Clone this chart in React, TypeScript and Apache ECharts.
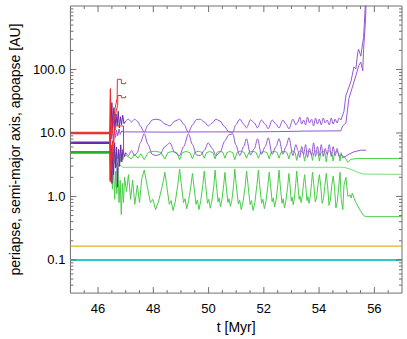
import React, { useEffect, useRef } from 'react';
import * as echarts from 'echarts';

// ---------- axis ranges & ticks ----------
const X_MIN = 45;
const X_MAX = 57;
const Y_MIN = 0.03;
const Y_MAX = 1000;
const xMajorTicks = [46, 48, 50, 52, 54, 56];
const xMinorTicks = [45.5, 46.5, 47, 47.5, 48.5, 49, 49.5, 50.5, 51, 51.5, 52.5, 53, 53.5, 54.5, 55, 55.5, 56.5];
const yMajorTicks = [0.1, 1, 10, 100];
const yMinorTicks = [0.04, 0.05, 0.06, 0.07, 0.08, 0.09, 0.2, 0.3, 0.4, 0.5, 0.6, 0.7, 0.8, 0.9, 2, 3, 4, 5, 6, 7, 8, 9, 20, 30, 40, 50, 60, 70, 80, 90, 200, 300, 400, 500, 600, 700, 800, 900];

// ---------- inner planets ----------
const cyanA = [[45, 0.1], [57, 0.1]];
const yellowA = [[45, 0.165], [57, 0.165]];

// ---------- red planet ----------
const redPreQ = [[45, 10.25], [46.43, 10.25]];
const redPreA = [[45, 10.0], [46.43, 10.0]];
const redPreq = [[45, 9.75], [46.43, 9.75]];
const redApo = [[46.43, 10.3], [46.445, 50], [46.45, 12], [46.46, 10], [46.5, 14], [46.57, 17], [46.62, 25], [46.69, 35], [46.7, 70], [46.84, 70], [46.845, 59.8], [46.994, 59.8], [46.998, 63]];
const redA = [[46.43, 10.0], [46.44, 1.7], [46.455, 9], [46.5, 9], [46.55, 14], [46.64, 20.5], [46.71, 27.3], [46.715, 38.9], [46.84, 38.9], [46.845, 35.9], [46.994, 35.9], [46.998, 38.3]];
const redPeri = [[46.43, 9.7], [46.44, 1.8], [46.46, 6], [46.49, 2.5], [46.52, 7.5], [46.55, 4], [46.58, 9], [46.6, 12.9], [46.92, 12.9], [46.925, 4.6]];

// ---------- purple planet ----------
const purplePreQ = [[45, 7.15], [46.43, 7.15]];
const purplePreA = [[45, 7.0], [46.43, 7.0]];
const purplePreq = [[45, 6.85], [46.43, 6.85]];
const purpleApoChaos = [[46.43, 7.2], [46.45, 42], [46.47, 14], [46.5, 30], [46.53, 12], [46.57, 25], [46.61, 11], [46.65, 20], [46.69, 13], [46.73, 22], [46.77, 12], [46.81, 18], [46.85, 13.5], [46.89, 19], [46.94, 14], [47.0, 15.4]];
const purpleApo = [
  [47.0, 15.4], [47.1, 16.5], [47.21, 14.9], [47.32, 16.5], [47.42, 15.4], [47.53, 12.9], [47.67, 10.2], [47.81, 13.4], [47.96, 16.0], [48.1, 16.5], [48.24, 16.0], [48.42, 13.8], [48.6, 12.9], [48.78, 15.4], [48.95, 16.5], [49.1, 13.8], [49.27, 10.2], [49.42, 13.4], [49.56, 16.2], [49.7, 16.5], [49.84, 14.9], [49.99, 12.9], [50.13, 14.35], [50.27, 16.5], [50.41, 15.4], [50.59, 12.4], [50.73, 10.4], [50.88, 10.2], [50.98, 13.4], [51.13, 16.5], [51.27, 13.8], [51.37, 12.0], [51.52, 16.2], [51.66, 14.35], [51.77, 12.0], [51.91, 16.0], [52.05, 13.8], [52.16, 11.6], [52.3, 16.0], [52.44, 13.8], [52.55, 12.0], [52.69, 16.0], [52.8, 13.8], [52.91, 11.6], [53.05, 16.5], [53.16, 13.4], [53.23, 14.9], [53.3, 17.8], [53.37, 13.8], [53.44, 16.0], [53.51, 13.4], [53.58, 17.8], [53.65, 14.35], [53.73, 16.5], [53.8, 12.9], [53.87, 17.15], [53.94, 13.8], [54.01, 16.5], [54.08, 13.4], [54.15, 17.15], [54.22, 14.35], [54.29, 16.0], [54.37, 13.4], [54.44, 17.15], [54.51, 13.8], [54.58, 16.5], [54.65, 14.35], [54.72, 17.15], [54.79, 16.0],
];
const purpleApoEject = [[54.79, 16.0], [54.9, 22], [54.97, 39], [55.15, 64], [55.26, 110], [55.33, 102], [55.4, 187], [55.43, 208], [55.51, 162], [55.58, 267], [55.61, 320], [55.68, 1200], [55.7, 2000]];
const purpleA = [
  [46.43, 7.0], [46.45, 20], [46.48, 8], [46.51, 14], [46.55, 7], [46.59, 12], [46.63, 8.5], [46.67, 11], [46.71, 9], [46.76, 11.5], [46.8, 9.5], [46.86, 10.8], [46.92, 10.2],
  [47.0, 10.4], [48.5, 10.3], [50.0, 10.4], [51.5, 10.4], [52.5, 10.5], [53.5, 10.7], [54.79, 10.8],
  [54.85, 12.9], [54.97, 14.35], [55.08, 35], [55.22, 55.6], [55.33, 79.5], [55.43, 113.6], [55.51, 131], [55.58, 95], [55.61, 208], [55.68, 607], [55.71, 1500],
];
const purplePeriChaos = [[46.43, 6.8], [46.45, 2.5], [46.47, 6.5], [46.5, 1.6], [46.53, 5], [46.56, 2.2], [46.6, 7], [46.63, 2.8], [46.67, 6], [46.7, 1.4], [46.74, 5.5], [46.78, 3.0], [46.82, 6.5], [46.86, 3.5], [46.9, 5.5], [46.95, 4.2], [47.0, 4.9]];
const purplePeri = [
  [47.0, 4.9], [47.1, 4.4], [47.21, 5.3], [47.32, 4.4], [47.42, 4.9], [47.53, 7.0], [47.67, 9.7], [47.81, 6.55], [47.96, 4.6], [48.1, 4.4], [48.24, 4.6], [48.42, 6.1], [48.6, 7.0], [48.78, 4.9], [48.95, 4.4], [49.1, 6.1], [49.27, 9.7], [49.42, 6.55], [49.56, 4.5], [49.7, 4.4], [49.84, 5.3], [49.99, 7.0], [50.13, 5.7], [50.27, 4.4], [50.41, 4.9], [50.59, 7.55], [50.73, 9.35], [50.88, 9.7], [50.98, 6.55], [51.13, 4.4], [51.27, 6.1], [51.37, 8.1], [51.52, 4.5], [51.66, 5.7], [51.77, 8.1], [51.91, 4.6], [52.05, 6.1], [52.16, 8.4], [52.3, 4.6], [52.44, 6.1], [52.55, 8.1], [52.69, 4.6], [52.8, 6.1], [52.91, 8.4], [53.05, 4.4], [53.16, 6.55], [53.23, 5.3], [53.3, 4.12], [53.37, 6.1], [53.44, 4.6], [53.51, 6.55], [53.58, 4.12], [53.65, 5.7], [53.73, 4.4], [53.8, 7.0], [53.87, 4.27], [53.94, 6.1], [54.01, 4.4], [54.08, 6.55], [54.15, 4.27], [54.22, 5.7], [54.29, 4.6], [54.37, 6.55], [54.44, 4.27], [54.51, 6.1], [54.58, 4.4], [54.65, 5.7], [54.72, 4.27], [54.79, 4.6],
];
const purplePeriEject = [[54.79, 4.6], [54.9, 4.12], [55.08, 4.63], [55.26, 5.05], [55.51, 5.35], [55.7, 5.35]];

// ---------- green planet ----------
const greenPreQ = [[45, 5.08], [46.43, 5.08]];
const greenPreA = [[45, 4.95], [46.43, 4.95]];
const greenPreq = [[45, 4.82], [46.43, 4.82]];
const greenApo = [
  [46.43, 5.15], [46.46, 4.2], [46.5, 5.6], [46.54, 3.6], [46.58, 5.2], [46.62, 3.3], [46.66, 5.0], [46.7, 3.9], [46.75, 5.4], [46.8, 3.5], [46.85, 4.8], [46.9, 3.8], [46.96, 4.5], [47.03, 4.4], [47.2, 3.9], [47.32, 4.6], [47.45, 4.0], [47.55, 4.7], [47.671, 3.8],
  [47.82, 4.95], [48.045, 5.15], [48.27, 4.95], [48.419, 3.9],
  [48.526, 4.9], [48.686, 5.1], [48.846, 4.9], [48.953, 3.8],
  [49.046, 4.9], [49.185, 5.1], [49.324, 4.9], [49.416, 3.9],
  [49.501, 4.95], [49.63, 5.15], [49.758, 4.95], [49.843, 4.0],
  [49.922, 4.9], [50.039, 5.1], [50.157, 4.9], [50.235, 3.9],
  [50.306, 4.95], [50.413, 5.15], [50.52, 4.95], [50.591, 4.0],
  [50.662, 4.9], [50.769, 5.1], [50.876, 4.9], [50.947, 3.8],
  [51.033, 4.95], [51.161, 5.15], [51.289, 4.95], [51.375, 4.0],
  [51.46, 4.95], [51.588, 5.15], [51.717, 4.95], [51.802, 4.0],
  [51.88, 4.9], [51.998, 5.1], [52.116, 4.9], [52.194, 3.9],
  [52.265, 4.95], [52.372, 5.15], [52.479, 4.95], [52.55, 4.0],
  [52.621, 4.95], [52.728, 5.15], [52.835, 4.95], [52.906, 3.9],
  [52.963, 4.9], [53.048, 5.2], [53.134, 4.9], [53.19, 3.7],
  [53.247, 4.9], [53.333, 5.25], [53.418, 4.9], [53.476, 3.6],
  [53.533, 4.9], [53.618, 5.2], [53.704, 4.9], [53.761, 3.7],
  [53.811, 4.9], [53.886, 5.25], [53.96, 4.9], [54.01, 3.6],
  [54.06, 4.85], [54.135, 5.2], [54.21, 4.85], [54.259, 3.5],
  [54.309, 4.85], [54.384, 5.25], [54.459, 4.85], [54.509, 3.6],
  [54.558, 4.8], [54.633, 5.2], [54.708, 4.8], [54.758, 3.6],
  [54.8, 4.9], [54.85, 4.0], [54.9, 4.3], [54.97, 3.9], [55.04, 3.44], [55.15, 3.85], [55.4, 3.97], [57, 3.97],
];
const greenA = [[46.43, 5.0], [46.46, 3.5], [46.5, 4.2], [46.55, 3.1], [46.6, 3.8], [46.65, 2.9], [46.7, 3.4], [46.76, 2.9], [46.82, 3.1], [46.88, 2.88], [54.9, 2.88], [55.15, 2.68], [55.4, 2.39], [55.61, 2.25], [57, 2.23]];
const greenPeri = [
  [46.43, 4.8], [46.46, 2.0], [46.49, 4.0], [46.52, 1.3], [46.56, 3.0], [46.6, 0.9], [46.64, 2.5], [46.68, 1.1], [46.72, 2.8], [46.76, 0.8], [46.8, 1.8], [46.84, 0.52], [46.88, 1.6], [46.92, 0.8], [46.96, 2.0], [47.03, 1.2], [47.1, 2.2], [47.18, 0.9], [47.25, 1.8], [47.33, 0.75], [47.42, 1.5], [47.5, 0.8], [47.58, 1.9], [47.671, 2.6],
  [47.76, 1.6], [47.895, 0.8], [47.984, 0.9], [48.084, 0.62], [48.194, 0.85], [48.33, 1.5], [48.419, 2.4],
  [48.483, 1.5], [48.579, 0.75], [48.643, 0.86], [48.713, 0.6], [48.793, 0.82], [48.889, 1.55], [48.953, 2.7],
  [49.01, 1.6], [49.092, 0.8], [49.149, 0.92], [49.209, 0.64], [49.277, 0.86], [49.359, 1.45], [49.416, 2.3],
  [49.466, 1.5], [49.544, 0.75], [49.594, 0.88], [49.651, 0.62], [49.715, 0.84], [49.794, 1.55], [49.843, 2.5],
  [49.89, 1.55], [49.961, 0.78], [50.007, 0.9], [50.061, 0.65], [50.118, 0.84], [50.189, 1.45], [50.235, 2.6],
  [50.278, 1.6], [50.342, 0.82], [50.385, 0.95], [50.431, 0.68], [50.484, 0.9], [50.549, 1.55], [50.591, 2.4],
  [50.634, 1.5], [50.698, 0.8], [50.741, 0.92], [50.787, 0.7], [50.841, 0.86], [50.905, 1.5], [50.947, 2.7],
  [50.997, 1.6], [51.076, 0.76], [51.125, 0.88], [51.182, 0.62], [51.247, 0.82], [51.325, 1.45], [51.375, 2.5],
  [51.425, 1.55], [51.503, 0.74], [51.553, 0.86], [51.61, 0.6], [51.674, 0.8], [51.752, 1.55], [51.802, 2.6],
  [51.848, 1.5], [51.92, 0.78], [51.966, 0.9], [52.019, 0.64], [52.076, 0.84], [52.148, 1.5], [52.194, 2.4],
  [52.237, 1.6], [52.301, 0.82], [52.343, 0.95], [52.39, 0.68], [52.443, 0.88], [52.507, 1.55], [52.55, 2.6],
  [52.593, 1.5], [52.657, 0.78], [52.7, 0.92], [52.746, 0.66], [52.799, 0.86], [52.863, 1.45], [52.906, 2.3],
  [52.942, 1.6], [52.992, 0.85], [53.027, 0.98], [53.063, 0.74], [53.105, 0.94], [53.155, 1.6], [53.19, 2.5],
  [53.227, 1.6], [53.277, 0.9], [53.312, 1.02], [53.348, 0.8], [53.39, 1.0], [53.44, 1.65], [53.476, 2.2],
  [53.512, 1.55], [53.561, 0.86], [53.597, 1.0], [53.633, 0.78], [53.675, 0.96], [53.725, 1.6], [53.761, 2.4],
  [53.811, 1.5], [53.861, 0.82], [53.911, 0.98], [53.96, 1.55], [54.01, 2.2],
  [54.06, 1.45], [54.11, 0.78], [54.16, 0.92], [54.21, 1.5], [54.259, 2.3],
  [54.309, 1.45], [54.359, 0.72], [54.409, 0.88], [54.459, 1.5], [54.509, 2.1],
  [54.559, 1.35], [54.608, 0.66], [54.658, 0.82], [54.708, 1.4], [54.758, 2.4],
  [54.8, 0.9], [54.86, 0.62], [54.9, 1.5], [54.97, 2.0], [55.04, 1.0], [55.12, 1.06], [55.16, 0.95], [55.2, 1.12], [55.33, 0.8], [55.51, 0.58], [55.61, 0.5], [55.68, 0.48], [57, 0.48],
];

// ---------- styling ----------
const AXIS_COLOR = '#6f6f6f';
const FONT = 'Liberation Sans, Arial, Helvetica, sans-serif';
const RED = '#ee2b2b';
const PURPLE_DARK = '#6526ad';
const PURPLE = '#9656d6';
const GREEN_DARK = '#22b422';
const GREEN = '#46cf46';
const GREEN_LIGHT = '#78de78';
const CYAN = '#2ec8c8';
const YELLOW = '#e2b21c';

const lineSeries = (data: number[][], color: string, width: number, z = 3, smooth: number | boolean = false) => ({
  type: 'line',
  data,
  showSymbol: false,
  symbol: 'none',
  smooth,
  smoothMonotone: 'x',
  lineStyle: { color, width },
  itemStyle: { color },
  emphasis: { disabled: true },
  silent: true,
  z,
});

const tickSeries = (vals: number[], dir: 'x' | 'y', len: number) => ({
  type: 'custom',
  coordinateSystem: 'cartesian2d',
  silent: true,
  z: 10,
  clip: false,
  data: vals.map((v) => (dir === 'x' ? [v, 1] : [50, v])),
  renderItem: (_params: any, api: any) => {
    const style = { stroke: AXIS_COLOR, lineWidth: 1 };
    if (dir === 'x') {
      const t = api.value(0);
      const b = api.coord([t, Y_MIN]);
      const tp = api.coord([t, Y_MAX]);
      return {
        type: 'group',
        children: [
          { type: 'line', shape: { x1: b[0], y1: b[1], x2: b[0], y2: b[1] - len }, style },
          { type: 'line', shape: { x1: tp[0], y1: tp[1], x2: tp[0], y2: tp[1] + len }, style },
        ],
      };
    }
    const v = api.value(1);
    const l = api.coord([X_MIN, v]);
    const r = api.coord([X_MAX, v]);
    return {
      type: 'group',
      children: [
        { type: 'line', shape: { x1: l[0], y1: l[1], x2: l[0] + len, y2: l[1] }, style },
        { type: 'line', shape: { x1: r[0], y1: r[1], x2: r[0] - len, y2: r[1] }, style },
      ],
    };
  },
});

export default function App() {
  const ref = useRef<HTMLDivElement>(null);
  useEffect(() => {
    if (!ref.current) return;
    const chart = echarts.init(ref.current, null, { renderer: 'svg' });
    chart.setOption({
      animation: false,
      backgroundColor: '#ffffff',
      grid: {
        left: 65, right: 5, top: 6, bottom: 41,
        show: true, borderColor: AXIS_COLOR, borderWidth: 1, backgroundColor: 'transparent',
      },
      xAxis: {
        type: 'value', min: X_MIN, max: X_MAX, interval: 1,
        name: 't [Myr]', nameLocation: 'middle', nameGap: 20,
        nameTextStyle: { fontFamily: FONT, fontSize: 14, color: '#000' },
        axisLine: { show: false }, axisTick: { show: false }, splitLine: { show: false },
        axisLabel: {
          fontFamily: FONT, fontSize: 13, color: '#000', margin: 9,
          formatter: (v: number) => (v % 2 === 0 ? String(v) : ''),
        },
      },
      yAxis: {
        type: 'log', logBase: 10, min: Y_MIN, max: Y_MAX,
        name: 'periapse, semi-major axis, apoapse [AU]', nameLocation: 'middle', nameGap: 44,
        nameTextStyle: { fontFamily: FONT, fontSize: 14, color: '#000' },
        axisLine: { show: false }, axisTick: { show: false }, splitLine: { show: false },
        axisLabel: {
          fontFamily: FONT, fontSize: 13, color: '#000', margin: 5,
          showMinLabel: false, showMaxLabel: false,
          formatter: (v: number) => (v >= 999 || v < 0.05 ? '' : Number(v).toFixed(1)),
        },
      },
      series: [
        lineSeries(cyanA, CYAN, 2, 2),
        lineSeries(yellowA, YELLOW, 1.2, 2),
        lineSeries(greenPreq, GREEN_DARK, 1.2),
        lineSeries(greenPreA, GREEN_DARK, 1.2),
        lineSeries(greenPreQ, GREEN_DARK, 1.2),
        lineSeries(greenA, GREEN_LIGHT, 1),
        lineSeries(greenPeri, GREEN, 1),
        lineSeries(greenApo, GREEN, 1),
        lineSeries(purplePreq, PURPLE_DARK, 1.2),
        lineSeries(purplePreA, PURPLE_DARK, 1.2),
        lineSeries(purplePreQ, PURPLE_DARK, 1.2),
        lineSeries(purpleA, PURPLE, 1),
        lineSeries(purplePeriChaos, PURPLE_DARK, 1),
        lineSeries(purplePeri, PURPLE, 1, 3, 0.3),
        lineSeries(purplePeriEject, PURPLE, 1),
        lineSeries(purpleApoChaos, PURPLE_DARK, 1),
        lineSeries(purpleApo, PURPLE, 1, 3, 0.3),
        lineSeries(purpleApoEject, PURPLE, 1),
        lineSeries(redPreq, RED, 1.2, 4),
        lineSeries(redPreA, RED, 1.2, 4),
        lineSeries(redPreQ, RED, 1.2, 4),
        lineSeries(redA, RED, 1, 4),
        lineSeries(redPeri, RED, 1, 4),
        lineSeries(redApo, RED, 1, 4),
        tickSeries(xMajorTicks, 'x', 6),
        tickSeries(xMinorTicks, 'x', 3),
        tickSeries(yMajorTicks, 'y', 6),
        tickSeries(yMinorTicks, 'y', 3),
      ],
    });
    return () => chart.dispose();
  }, []);
  return (
    <div
      ref={ref}
      style={{ position: 'fixed', left: 0, top: 0, width: 407, height: 339, background: '#fff' }}
    />
  );
}
